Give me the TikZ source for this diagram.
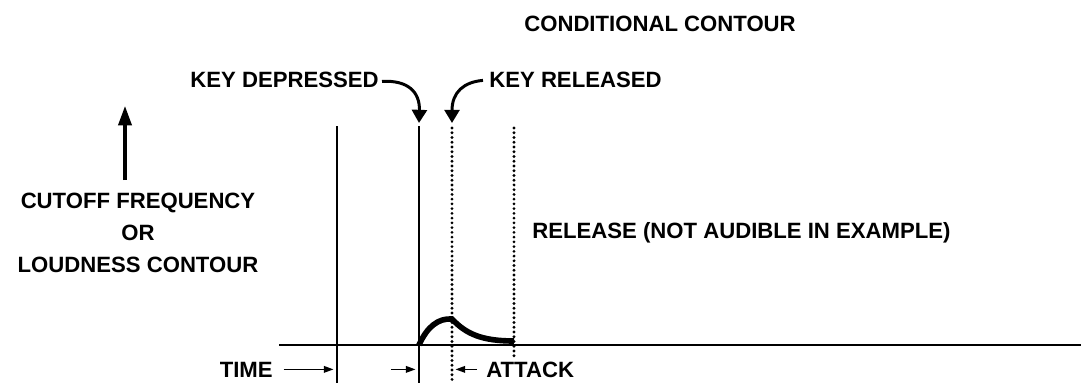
\documentclass[tikz,border=0pt]{standalone}
\usepackage{fontspec}
\setmainfont{Liberation Sans}
\usetikzlibrary{arrows.meta}

\begin{document}
\begin{tikzpicture}[
  x=0.02cm, y=-0.02cm,
  lbl/.style={font=\fontsize{12.6pt}{18pt}\selectfont\bfseries, inner sep=0pt},
  keyarrow/.style={line width=1.7pt, -{Triangle[width=8.5pt, length=7.5pt]}},
  tick/.style={line width=0.8pt, -{Triangle[width=3.8pt, length=5.5pt]}},
  marker/.style={line width=0.8pt},
  dotline/.style={line width=1.8pt, line cap=round, dash pattern=on 0pt off 2.7pt}
]
\useasboundingbox (0,0) rectangle (1081,385);

% Labels
\node[lbl, anchor=base] (title) at (660,32) {CONDITIONAL CONTOUR};
\node[lbl, anchor=base east] (depressed) at (379,88) {KEY DEPRESSED};
\node[lbl, anchor=base west] (released) at (489,88) {KEY RELEASED};
\node[lbl, anchor=base, align=center] (axis) at (138,272) {CUTOFF FREQUENCY\\OR\\LOUDNESS CONTOUR};
\node[lbl, anchor=base west] (release) at (532,238) {RELEASE (NOT AUDIBLE IN EXAMPLE)};
\node[lbl, anchor=base east] (time) at (273,377) {TIME};
\node[lbl, anchor=base west] (attack) at (486,377) {ATTACK};

% Time markers
\coordinate (m1top) at (337,126);  \coordinate (m1bot) at (337,383);
\coordinate (m2top) at (419,126);  \coordinate (m2bot) at (419,383);
\coordinate (m3top) at (452,128);  \coordinate (m3bot) at (452,383);
\coordinate (m4top) at (514,128);  \coordinate (m4bot) at (514,356);
\draw[marker] (m1top) -- (m1bot);
\draw[marker] (m2top) -- (m2bot);
\draw[dotline] (m3top) -- (m3bot);
\draw[dotline] (m4top) -- (m4bot);

% Time axis
\coordinate (t0) at (279,345);
\coordinate (t1) at (1081,345);
\draw[line width=1.1pt] (t0) -- (t1);

% Vertical axis arrow
\coordinate (ybase) at (125,180);
\coordinate (ytip) at (125,106);
\draw[line width=1.8pt, -{Triangle[width=7.5pt, length=11pt]}] (ybase) -- (ytip);

% Key arrows
\draw[keyarrow] (depressed.east) ++(3,1) .. controls (408,80) and (420,92) .. (m2top |- 0,123);
\draw[keyarrow] (released.west) ++(-6,0) .. controls (464,82) and (452,92) .. (m3top |- 0,123);

% Contour
\draw[line width=3.2pt] (m2bot |- t0) .. controls (427,327) and (438,318) .. (452,319)
  .. controls (466,334) and (482,341) .. (m4bot |- 0,341);

% Interval arrows
\draw[tick] ([xshift=6pt]time.east) -- ([xshift=-2pt]time.east -| m1top);
\draw[tick] ([xshift=-16pt]time.east -| m2top) -- ([xshift=-2pt]time.east -| m2top);
\draw[tick] ([xshift=-5pt]attack.west) -- ([xshift=2pt]attack.west -| m3top);

\end{tikzpicture}
\end{document}
